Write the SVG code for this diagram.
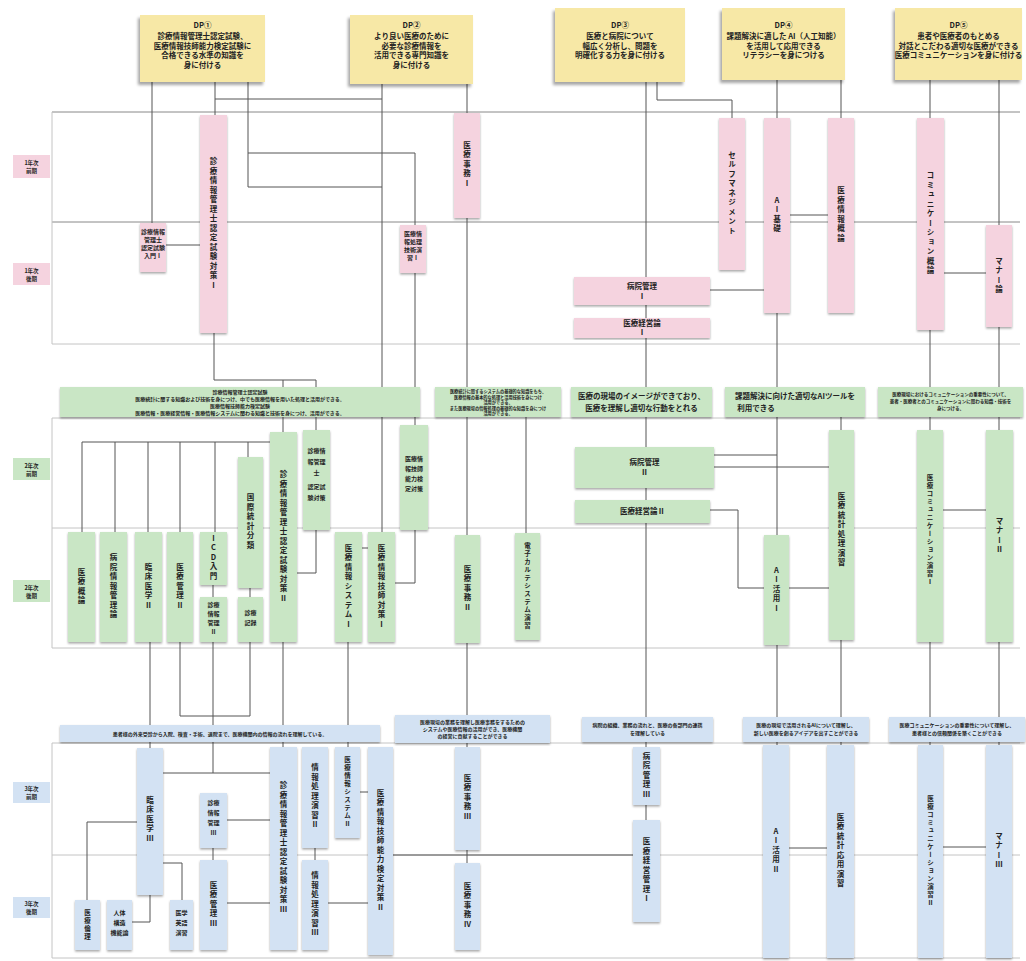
<svg xmlns="http://www.w3.org/2000/svg" width="1026" height="961" viewBox="0 0 1026 961">
<defs>
<filter id="hs" x="-10%" y="-10%" width="120%" height="130%"><feDropShadow dx="-2" dy="3" stdDeviation="1.5" flood-color="#000" flood-opacity="0.35"/></filter>
<filter id="ns" x="-20%" y="-5%" width="140%" height="115%"><feDropShadow dx="0" dy="1.5" stdDeviation="0.8" flood-color="#000" flood-opacity="0.35"/></filter>
<style>
.pk{fill:#f5d3df;filter:url(#ns)}
.gr{fill:#c9e6c5;filter:url(#ns)}
.bl{fill:#d3e2f3;filter:url(#ns)}
.yl{fill:#f7e8a6;filter:url(#hs)}
.ln{stroke:#555;stroke-width:1;fill:none}
.gd{stroke:#c4c4c4;stroke-width:1;fill:none}
.gd2{stroke:#888;stroke-width:1;fill:none}
text{font-family:"Noto Sans CJK JP","Noto Sans",sans-serif;font-weight:bold;fill:#222;text-anchor:middle}
.h{font-size:7.5px}
.n{font-size:7.5px}
.v{font-size:7.5px;writing-mode:vertical-rl;text-orientation:upright;letter-spacing:2px}
.vs{font-size:6.5px;writing-mode:vertical-rl;text-orientation:upright;letter-spacing:1.5px}
.s{font-size:6px}
.b5{font-size:5px}
.b45{font-size:4.5px}
.b42{font-size:4.2px}
.lb{font-size:5.5px}
</style>
</defs>
<rect width="1026" height="961" fill="#fff"/>

<g id="grid">
<path class="gd2" d="M52 112H1020M52 222H1020"/>
<path class="gd" d="M52 344H1020M52 112V344M52 418H1020M52 528H1020M52 648H1020M52 418V648M52 743H1020M52 855H1020M52 958H1020M52 743V958"/>
</g>

<g id="connectors">
<path class="ln" d="M152 82V223M215 82V115M248 82V187M248 153H415V225M248 187H382M215 99H382"/>
<path class="ln" d="M382 84V532M467 84V535M646 82V747M657 82V100H732M732 100V118"/>
<path class="ln" d="M777 80V745M841 80V118M841 417V430M841 640V745M930 80V745M999 80V745"/>
<path class="ln" d="M790 215H828M710 290H764M944 273H986M166 245H200"/>
<path class="ln" d="M214 333V380H316V430M283 380V432M415 273V425"/>
<path class="ln" d="M82 442H270M82 442V532M115 442V532M148 442V532M180 442V532M215 442V532M248 442V457"/>
<path class="ln" d="M297 573H316V530M395 583H415V530M362 548H368M213 585V597M250 588V597"/>
<path class="ln" d="M714 455H777M714 467H829M710 510H738V588H764M789 588H829M943 510H986M526 417V533"/>
<path class="ln" d="M150 642V748M180 642V716H250M250 642V716M213 642V773M163 773H270M283 642V747M348 642V747M467 643V747"/>
<path class="ln" d="M137 822H87V900M150 895V922H132M163 863H182V900M227 820H270M213 848V860M227 903H270M315 848V860M328 903H368M360 792H368M393 855H633M467 850V863M646 805V820M789 848H827M943 847H986"/>
</g>

<g id="dp1"><rect class="yl" x="140" y="15" width="125" height="67"/>
<text class="h" x="202.5"><tspan x="202.5" y="28">DP①</tspan><tspan x="202.5" y="39">診療情報管理士認定試験、</tspan><tspan x="202.5" y="48.5">医療情報技師能力検定試験に</tspan><tspan x="202.5" y="58">合格できる水準の知識を</tspan><tspan x="202.5" y="67.5">身に付ける</tspan></text></g>
<g id="dp2"><rect class="yl" x="350" y="15" width="123" height="69"/>
<text class="h" x="411.5"><tspan x="411.5" y="28">DP②</tspan><tspan x="411.5" y="39">より良い医療のために</tspan><tspan x="411.5" y="48.5">必要な診療情報を</tspan><tspan x="411.5" y="58">活用できる専門知識を</tspan><tspan x="411.5" y="67.5">身に付ける</tspan></text></g>
<g id="dp3"><rect class="yl" x="555" y="8" width="130" height="74"/>
<text class="h" x="620"><tspan x="620" y="28">DP③</tspan><tspan x="620" y="39">医療と病院について</tspan><tspan x="620" y="48.5">幅広く分析し、問題を</tspan><tspan x="620" y="58">明確化する力を身に付ける</tspan></text></g>
<g id="dp4"><rect class="yl" x="722" y="8" width="123" height="72"/>
<text class="h" x="783.5"><tspan x="783.5" y="28">DP④</tspan><tspan x="783.5" y="39">課題解決に適した AI（人工知能）</tspan><tspan x="783.5" y="48.5">を活用して応用できる</tspan><tspan x="783.5" y="58">リテラシーを身につける</tspan></text></g>
<g id="dp5"><rect class="yl" x="895" y="8" width="127" height="72"/>
<text class="h" x="958.5"><tspan x="958.5" y="28">DP⑤</tspan><tspan x="958.5" y="39">患者や医療者のもとめる</tspan><tspan x="958.5" y="48.5">対話とこだわる適切な医療ができる</tspan><tspan x="958.5" y="58">医療コミュニケーションを身に付ける</tspan></text></g>

<g id="lbl-1a"><rect fill="#f5d3df" x="13" y="155" width="37" height="23"/><text class="lb"><tspan x="31.5" y="165">1年次</tspan><tspan x="31.5" y="173">前期</tspan></text></g>
<g id="lbl-1b"><rect fill="#f5d3df" x="13" y="263" width="37" height="22"/><text class="lb"><tspan x="31.5" y="273">1年次</tspan><tspan x="31.5" y="281">後期</tspan></text></g>
<g id="lbl-2a"><rect fill="#c9e6c5" x="13" y="458" width="37" height="22"/><text class="lb"><tspan x="31.5" y="468">2年次</tspan><tspan x="31.5" y="476">前期</tspan></text></g>
<g id="lbl-2b"><rect fill="#c9e6c5" x="13" y="580" width="37" height="22"/><text class="lb"><tspan x="31.5" y="590">2年次</tspan><tspan x="31.5" y="598">後期</tspan></text></g>
<g id="lbl-3a"><rect fill="#d3e2f3" x="13" y="782" width="37" height="21"/><text class="lb"><tspan x="31.5" y="791">3年次</tspan><tspan x="31.5" y="799">前期</tspan></text></g>
<g id="lbl-3b"><rect fill="#d3e2f3" x="13" y="897" width="37" height="21"/><text class="lb"><tspan x="31.5" y="906">3年次</tspan><tspan x="31.5" y="914">後期</tspan></text></g>

<g id="p1"><rect class="pk" x="200" y="115" width="27" height="218"/><text class="v" x="213.5" y="224">診療情報管理士認定試験対策Ⅰ</text></g>
<g id="p2"><rect class="pk" x="140" y="223" width="26" height="49"/><text class="s"><tspan x="153" y="234">診療情報</tspan><tspan x="153" y="242">管理士</tspan><tspan x="153" y="250">認定試験</tspan><tspan x="153" y="258">入門Ⅰ</tspan></text></g>
<g id="p3"><rect class="pk" x="454" y="113" width="26" height="105"/><text class="v" x="467" y="165">医療事務Ⅰ</text></g>
<g id="p4"><rect class="pk" x="400" y="225" width="26" height="48"/><text class="s"><tspan x="413" y="236">医療情</tspan><tspan x="413" y="244">報処理</tspan><tspan x="413" y="252">技術演</tspan><tspan x="413" y="260">習Ⅰ</tspan></text></g>
<g id="p5"><rect class="pk" x="574" y="277" width="136" height="28"/><text class="n"><tspan x="642" y="289">病院管理</tspan><tspan x="642" y="299">Ⅰ</tspan></text></g>
<g id="p6"><rect class="pk" x="574" y="318" width="136" height="20"/><text class="n"><tspan x="642" y="326">医療経営論</tspan><tspan x="642" y="335">Ⅰ</tspan></text></g>
<g id="p7"><rect class="pk" x="719" y="118" width="26" height="152"/><text class="v" x="732" y="194">セルフマネジメント</text></g>
<g id="p8"><rect class="pk" x="764" y="118" width="26" height="195"/><text class="v" x="777" y="215">AI基礎</text></g>
<g id="p9"><rect class="pk" x="828" y="118" width="26" height="195"/><text class="v" x="841" y="215">医療情報概論</text></g>
<g id="p10"><rect class="pk" x="917" y="118" width="27" height="212"/><text class="v" x="930.5" y="224">コミュニケーション概論</text></g>
<g id="p11"><rect class="pk" x="986" y="225" width="26" height="102"/><text class="v" x="999" y="276">マナー論</text></g>

<g id="gb1"><rect class="gr" x="60" y="387" width="360" height="30"/><text class="b5"><tspan x="240" y="394">診療情報管理士認定試験</tspan><tspan x="240" y="401">医療統計に関する知識および技術を身につけ、中でも医療情報を用いた処理と活用ができる。</tspan><tspan x="240" y="408">医療情報技師能力検定試験</tspan><tspan x="240" y="415">医療情報・医療経営情報・医療情報システムに関わる知識と技術を身につけ、活用ができる。</tspan></text></g>
<g id="gb2"><rect class="gr" x="435" y="387" width="126" height="30"/><text class="b42"><tspan x="498" y="393">医療統計に関するシステムの基礎的な知識をもち、</tspan><tspan x="498" y="398.5">医療情報の基本的な処理と活用技術を身につけ</tspan><tspan x="498" y="404">活用ができる。</tspan><tspan x="498" y="409.5">また医療現場の情報処理の基礎的な知識を身につけ</tspan><tspan x="498" y="415">活用ができる。</tspan></text></g>
<g id="gb3"><rect class="gr" x="571" y="387" width="141" height="30"/><text class="n"><tspan x="641.5" y="399">医療の現場のイメージができており、</tspan><tspan x="641.5" y="411">医療を理解し適切な行動をとれる</tspan></text></g>
<g id="gb4"><rect class="gr" x="725" y="387" width="140" height="30"/><text class="n"><tspan x="795" y="399">課題解決に向けた適切なAIツールを</tspan><tspan x="756" y="411">利用できる</tspan></text></g>
<g id="gb5"><rect class="gr" x="878" y="387" width="145" height="30"/><text class="b45"><tspan x="950.5" y="396">医療現場におけるコミュニケーションの重要性について、</tspan><tspan x="950.5" y="403">患者・医療者とのコミュニケーションに関わる知識・技術を</tspan><tspan x="950.5" y="410">身につける。</tspan></text></g>

<g id="g1"><rect class="gr" x="68" y="532" width="27" height="110"/><text class="v" x="81.5" y="587">医療概論</text></g>
<g id="g2"><rect class="gr" x="100" y="532" width="27" height="110"/><text class="v" x="113.5" y="587">病院情報管理論</text></g>
<g id="g3"><rect class="gr" x="135" y="532" width="27" height="110"/><text class="v" x="148.5" y="587">臨床医学Ⅱ</text></g>
<g id="g4"><rect class="gr" x="167" y="532" width="26" height="110"/><text class="v" x="180" y="587">医療管理Ⅱ</text></g>
<g id="g5"><rect class="gr" x="200" y="532" width="27" height="53"/><text class="v" x="213.5" y="558">ICD入門</text></g>
<g id="g5b"><rect class="gr" x="200" y="597" width="27" height="45"/><text class="s"><tspan x="213.5" y="607">診療</tspan><tspan x="213.5" y="616">情報</tspan><tspan x="213.5" y="625">管理</tspan><tspan x="213.5" y="634">Ⅱ</tspan></text></g>
<g id="g6"><rect class="gr" x="238" y="457" width="25" height="131"/><text class="v" x="250.5" y="522">国際統計分類</text></g>
<g id="g6b"><rect class="gr" x="238" y="597" width="25" height="45"/><text class="s"><tspan x="250.5" y="615">診療</tspan><tspan x="250.5" y="625">記録</tspan></text></g>
<g id="g7"><rect class="gr" x="270" y="432" width="27" height="210"/><text class="v" x="283.5" y="537">診療情報管理士認定試験対策Ⅱ</text></g>
<g id="g8"><rect class="gr" x="303" y="430" width="27" height="100"/><text class="s"><tspan x="316.5" y="453">診療情</tspan><tspan x="316.5" y="464">報管理</tspan><tspan x="316.5" y="475">士</tspan><tspan x="316.5" y="489">認定試</tspan><tspan x="316.5" y="500">験対策</tspan></text></g>
<g id="g9"><rect class="gr" x="335" y="532" width="27" height="110"/><text class="v" x="348.5" y="587">医療情報システムⅠ</text></g>
<g id="g10"><rect class="gr" x="368" y="532" width="27" height="110"/><text class="v" x="381.5" y="587">医療情報技師対策Ⅰ</text></g>
<g id="g11"><rect class="gr" x="400" y="425" width="28" height="105"/><text class="s"><tspan x="414" y="461">医療情</tspan><tspan x="414" y="471">報技師</tspan><tspan x="414" y="481">能力検</tspan><tspan x="414" y="491">定対策</tspan></text></g>
<g id="g12"><rect class="gr" x="455" y="535" width="25" height="108"/><text class="v" x="467.5" y="589">医療事務Ⅱ</text></g>
<g id="g13"><rect class="gr" x="515" y="533" width="25" height="107"/><text class="vs" x="527.5" y="586">電子カルテシステム演習</text></g>
<g id="g14"><rect class="gr" x="575" y="447" width="139" height="41"/><text class="n"><tspan x="644.5" y="465">病院管理</tspan><tspan x="644.5" y="475">Ⅱ</tspan></text></g>
<g id="g15"><rect class="gr" x="575" y="500" width="135" height="23"/><text class="n" x="642.5" y="514">医療経営論Ⅱ</text></g>
<g id="g16"><rect class="gr" x="764" y="535" width="25" height="110"/><text class="v" x="776.5" y="590">AI活用Ⅰ</text></g>
<g id="g17"><rect class="gr" x="829" y="430" width="25" height="210"/><text class="v" x="841.5" y="530">医療統計処理演習</text></g>
<g id="g18"><rect class="gr" x="917" y="430" width="26" height="212"/><text class="vs" x="930" y="530">医療コミュニケーション演習Ⅰ</text></g>
<g id="g19"><rect class="gr" x="986" y="430" width="27" height="212"/><text class="v" x="999.5" y="536">マナーⅡ</text></g>

<g id="bb1"><rect class="bl" x="60" y="725" width="320" height="17"/><text class="b5" x="220" y="735.5">患者様の外来受診から入院、検査・手術、退院まで、医療機関内の情報の流れを理解している。</text></g>
<g id="bb2"><rect class="bl" x="395" y="715" width="155" height="28"/><text class="b5"><tspan x="472.5" y="724">医療現場の業務を理解し医療事務をするための</tspan><tspan x="472.5" y="731">システムや医療情報の活用ができ、医療機関</tspan><tspan x="472.5" y="738">の経営に貢献することができる</tspan></text></g>
<g id="bb3"><rect class="bl" x="582" y="717" width="131" height="25"/><text class="b5"><tspan x="647.5" y="727">病院の組織、業務の流れと、医療の各部門の連携</tspan><tspan x="647.5" y="735">を理解している</tspan></text></g>
<g id="bb4"><rect class="bl" x="743" y="717" width="126" height="25"/><text class="b5"><tspan x="806" y="727">医療の現場で活用されるAIについて理解し、</tspan><tspan x="806" y="735">新しい医療を創るアイデアを出すことができる</tspan></text></g>
<g id="bb5"><rect class="bl" x="889" y="717" width="136" height="25"/><text class="b5"><tspan x="957" y="727">医療コミュニケーションの重要性について理解し、</tspan><tspan x="957" y="735">患者様との信頼関係を築くことができる</tspan></text></g>

<g id="b1"><rect class="bl" x="137" y="748" width="26" height="147"/><text class="v" x="150" y="820">臨床医学Ⅲ</text></g>
<g id="b2"><rect class="bl" x="75" y="900" width="25" height="50"/><text class="vs" x="87.5" y="925">医療倫理</text></g>
<g id="b3"><rect class="bl" x="107" y="900" width="25" height="50"/><text class="s"><tspan x="119.5" y="915">人体</tspan><tspan x="119.5" y="925">構造</tspan><tspan x="119.5" y="935">機能論</tspan></text></g>
<g id="b4"><rect class="bl" x="170" y="900" width="23" height="50"/><text class="s"><tspan x="181.5" y="915">医学</tspan><tspan x="181.5" y="925">英語</tspan><tspan x="181.5" y="935">演習</tspan></text></g>
<g id="b5"><rect class="bl" x="200" y="793" width="27" height="55"/><text class="s"><tspan x="213.5" y="805">診療</tspan><tspan x="213.5" y="815">情報</tspan><tspan x="213.5" y="825">管理</tspan><tspan x="213.5" y="835">Ⅲ</tspan></text></g>
<g id="b6"><rect class="bl" x="200" y="860" width="27" height="90"/><text class="v" x="213.5" y="905">医療管理Ⅲ</text></g>
<g id="b7"><rect class="bl" x="270" y="747" width="27" height="203"/><text class="v" x="283.5" y="848">診療情報管理士認定試験対策Ⅲ</text></g>
<g id="b8"><rect class="bl" x="302" y="747" width="26" height="101"/><text class="v" x="315" y="797">情報処理演習Ⅱ</text></g>
<g id="b9"><rect class="bl" x="302" y="860" width="26" height="90"/><text class="v" x="315" y="905">情報処理演習Ⅲ</text></g>
<g id="b10"><rect class="bl" x="335" y="747" width="25" height="91"/><text class="vs" x="347.5" y="792">医療情報システムⅡ</text></g>
<g id="b11"><rect class="bl" x="368" y="747" width="25" height="208"/><text class="v" x="380.5" y="851">医療情報技師能力検定対策Ⅱ</text></g>
<g id="b12"><rect class="bl" x="455" y="747" width="25" height="103"/><text class="v" x="467.5" y="798">医療事務Ⅲ</text></g>
<g id="b13"><rect class="bl" x="455" y="863" width="25" height="87"/><text class="v" x="467.5" y="906">医療事務Ⅳ</text></g>
<g id="b14"><rect class="bl" x="633" y="747" width="27" height="58"/><text class="v" x="646.5" y="776">病院管理Ⅲ</text></g>
<g id="b15"><rect class="bl" x="633" y="820" width="27" height="102"/><text class="v" x="646.5" y="871">医療経営管理Ⅰ</text></g>
<g id="b16"><rect class="bl" x="763" y="745" width="26" height="213"/><text class="v" x="776" y="851">AI活用Ⅱ</text></g>
<g id="b17"><rect class="bl" x="827" y="745" width="27" height="213"/><text class="v" x="840.5" y="851">医療統計応用演習</text></g>
<g id="b18"><rect class="bl" x="918" y="745" width="25" height="213"/><text class="vs" x="930.5" y="851">医療コミュニケーション演習Ⅱ</text></g>
<g id="b19"><rect class="bl" x="986" y="745" width="26" height="213"/><text class="v" x="999" y="851">マナーⅢ</text></g>
</svg>
